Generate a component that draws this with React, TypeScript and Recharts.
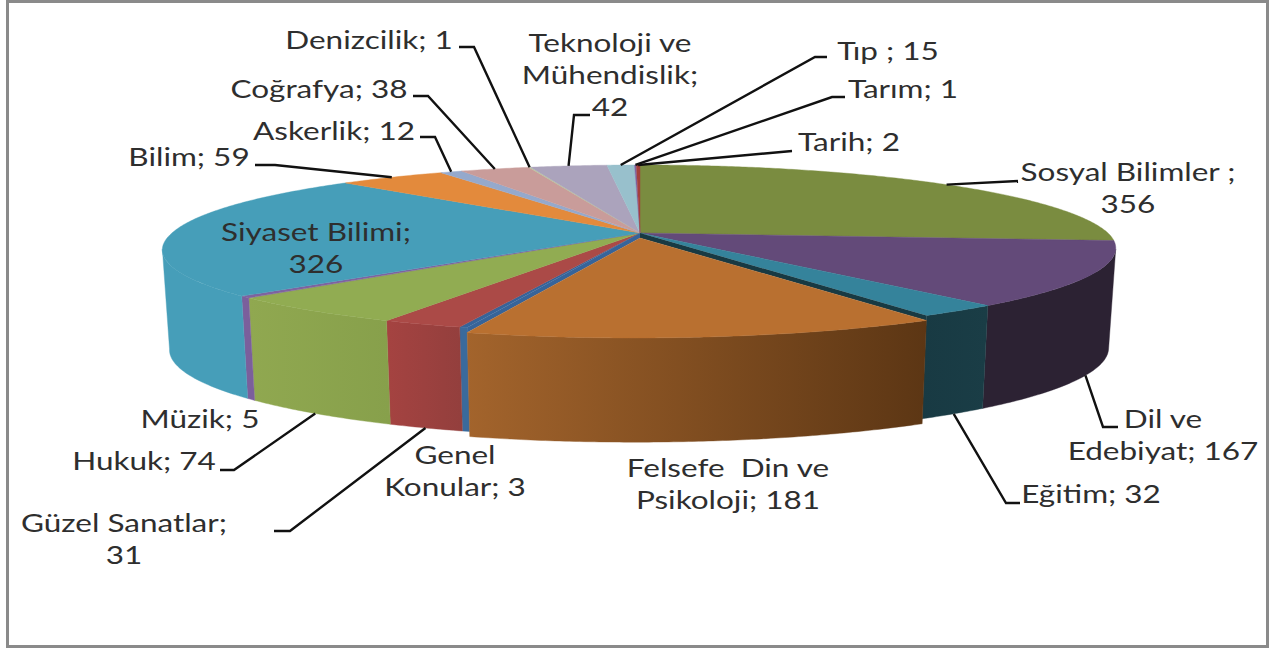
import React from "react";
import { PieChart, Pie } from "recharts";

const CATEGORIES = ["Sosyal Bilimler", "Dil ve Edebiyat", "Eğitim", "Felsefe Din ve Psikoloji", "Genel Konular", "Güzel Sanatlar", "Hukuk", "Müzik", "Siyaset Bilimi", "Bilim", "Askerlik", "Coğrafya", "Denizcilik", "Teknoloji ve Mühendislik", "Tıp", "Tarım", "Tarih"];
const VALUES = [356, 167, 32, 181, 3, 31, 74, 5, 326, 59, 12, 38, 1, 42, 15, 1, 2];
const TOP_COLORS = ["#7a8c40", "#634a79", "#35839b", "#b97030", "#36649a", "#ab4a47", "#91ac52", "#7f63a0", "#469eb9", "#e38a3c", "#95a9cc", "#c99c9a", "#b8c89a", "#aba3bc", "#98c0cc", "#7f63a0", "#a5403d"];
const WALL_LEFT = ["#3c4520", "#2c2233", "#183a43", "#a3642c", "#3a6a9c", "#a54341", "#90a850", "#7b5f9c", "#469eb9", "#e38a3c", "#95a9cc", "#c99c9a", "#b8c89a", "#aba3bc", "#98c0cc", "#7f63a0", "#a5403d"];
const WALL_RIGHT = ["#3c4520", "#2c2233", "#1a3d46", "#5c3614", "#3a6a9c", "#933f3d", "#87a04b", "#7b5f9c", "#469eb9", "#e38a3c", "#95a9cc", "#c99c9a", "#b8c89a", "#aba3bc", "#98c0cc", "#7f63a0", "#a5403d"];

const LABEL_LINES = [["Sosyal Bilimler ;", "356"], ["Dil ve", "Edebiyat; 167"], ["Eğitim; 32"], ["Felsefe  Din ve", "Psikoloji; 181"], ["Genel", "Konular; 3"], ["Güzel Sanatlar;", "31"], ["Hukuk; 74"], ["Müzik; 5"], ["Siyaset Bilimi;", "326"], ["Bilim; 59"], ["Askerlik; 12"], ["Coğrafya; 38"], ["Denizcilik; 1"], ["Teknoloji ve", "Mühendislik;", "42"], ["Tıp ; 15"], ["Tarım; 1"], ["Tarih; 2"]];
const LABEL_CENTER_X = [1128, 1163, 1091, 728, 455, 124, 144, 200, 316, 189, 334, 319, 369, 610, 888, 903, 849];
const LABEL_BASELINE_Y = [181, 428, 503, 477, 464, 532, 470, 428, 241, 166, 140, 98, 49, 52, 60, 98, 151];
const LEADER_LEVEL = [0, 1, 1, -1, -1, 1, 1, -1, -1, 0, 0, 0, 0, 0, 0, 0, 0];
const LEADER_PATHS: number[][][] = [
  [[1018, 181]],
  [[1103, 427], [1118, 427]],
  [[1006, 503], [1020, 503]],
  [],
  [],
  [[290, 531], [274, 531]],
  [[234, 470], [220, 470]],
  [],
  [],
  [[275, 165], [255, 165]],
  [[435, 137], [420, 137]],
  [[428, 96], [413, 96]],
  [[474, 47], [459, 47]],
  [[574, 115], [590, 115]],
  [[815, 57], [827, 57]],
  [[832, 97], [845, 97]],
  [[792, 151]],
];

const EXPLODED = 3;
const TILT = 0.19;
const FLATTEN = 0.173;
const DEPTH_RATIO = 0.212;
const SHEAR = 0.06;
const EXPLODE_DX = 0;
const EXPLODE_DY = 5;
const TEXT_STRETCH = 1.26;

const chartData = CATEGORIES.map((name, i) => ({ name, value: VALUES[i] }));

const project = (cx: number, cy: number, R: number, theta: number, r: number, level: number) => {
  const t = (theta * Math.PI) / 180;
  const w = 1 + TILT * r * Math.cos(t);
  let x = (R * r * Math.sin(t)) / w;
  let y = (-FLATTEN * R * r * Math.cos(t)) / w;
  if (y > 0) x -= SHEAR * y;
  if (level === 1) {
    x *= 0.985;
    y = y * 1.05 + DEPTH_RATIO * R;
  }
  return [cx + x, cy + y];
};

const pathOf = (pts: number[][], close = true) =>
  pts.map((p, i) => `${i ? "L" : "M"}${p[0].toFixed(2)},${p[1].toFixed(2)}`).join("") + (close ? "Z" : "");

const arcPoints = (cx: number, cy: number, R: number, a: number, b: number, level: number) => {
  const n = Math.max(2, Math.ceil((b - a) / 0.5));
  const out: number[][] = [];
  for (let i = 0; i <= n; i++) out.push(project(cx, cy, R, a + ((b - a) * i) / n, 1, level));
  return out;
};

const Slice3D = (props: any, show: (i: number) => boolean) => {
  const index = CATEGORIES.indexOf(props.name);
  if (!show(index)) return <g />;
  const ex = index === EXPLODED;
  const cx = props.cx + (ex ? EXPLODE_DX : 0);
  const cy = props.cy + (ex ? EXPLODE_DY : 0);
  const R = props.outerRadius;
  const a = 90 - props.startAngle;
  const b = 90 - props.endAngle;
  const top = [[cx, cy], ...arcPoints(cx, cy, R, a, b, 0)];
  const vis = (Math.acos(-TILT) * 180) / Math.PI;
  const wa = Math.max(a, vis);
  const wb = Math.min(b, 360 - vis);
  let wall: React.ReactNode = null;
  let gaps: React.ReactNode = null;
  if (ex) {
    const oa = project(props.cx, props.cy, R, a, 1, 0);
    const ob = project(props.cx, props.cy, R, b, 1, 0);
    const na = project(cx, cy, R, a, 1, 0);
    const nb = project(cx, cy, R, b, 1, 0);
    gaps = (
      <>
        <path d={pathOf([[props.cx, props.cy], oa, na, [cx, cy]])} fill={WALL_LEFT[index - 1]} />
        <path d={pathOf([[props.cx, props.cy], ob, nb, [cx, cy]])} fill={TOP_COLORS[index + 1]} />
      </>
    );
  }
  if (wb > wa) {
    const upper = arcPoints(cx, cy, R, wa, wb, 0);
    const lower = arcPoints(cx, cy, R, wa, wb, 1);
    const pts = [...upper, ...lower.reverse()];
    const xs = pts.map((p) => p[0]);
    const gid = `wall-${index}`;
    wall = (
      <>
        <defs>
          <linearGradient id={gid} gradientUnits="userSpaceOnUse" x1={Math.min(...xs)} x2={Math.max(...xs)} y1={0} y2={0}>
            <stop offset="0" stopColor={WALL_LEFT[index]} />
            <stop offset="1" stopColor={WALL_RIGHT[index]} />
          </linearGradient>
        </defs>
        <path d={pathOf(pts)} fill={`url(#${gid})`} stroke={`url(#${gid})`} strokeWidth={0.4} />
      </>
    );
  }
  return (
    <g>
      {gaps}
      {wall}
      <path d={pathOf(top)} fill={TOP_COLORS[index]} stroke={TOP_COLORS[index]} strokeWidth={0.4} />
    </g>
  );
};

const renderLabel = (props: any) => {
  const i = CATEGORIES.indexOf(props.name);
  const theta = 90 - props.midAngle;
  const level = LEADER_LEVEL[i];
  const path = LEADER_PATHS[i];
  const start = project(props.cx, props.cy, props.outerRadius, theta, 1, Math.max(level, 0));
  const tx = LABEL_CENTER_X[i];
  return (
    <g key={`label-${i}`}>
      {level >= 0 && path.length > 0 && (
        <path d={pathOf([start, ...path], false)} fill="none" stroke="#111" strokeWidth={2.4} />
      )}
      <text
        textAnchor="middle"
        fontFamily="Lato, sans-serif"
        fontSize={25}
        fill="#2e2e2e"
        transform={`translate(${tx} 0) scale(${TEXT_STRETCH} 1)`}
      >
        {LABEL_LINES[i].map((line, j) => (
          <tspan key={j} x={0} y={LABEL_BASELINE_Y[i] + j * 32} xmlSpace="preserve">
            {line}
          </tspan>
        ))}
      </text>
    </g>
  );
};

export default function App() {
  return (
    <div style={{ position: "absolute", left: 0, top: 0, width: 1270, height: 650, background: "#fff" }}>
      <div style={{ position: "absolute", left: 6, top: 0, width: 1257, height: 642, border: "3px solid #8a8a8a" }} />
      <div style={{ position: "absolute", left: 0, top: 0 }}>
        <PieChart width={1270} height={650} margin={{ top: 0, right: 0, bottom: 0, left: 0 }}>
          <Pie
            data={chartData}
            dataKey="value"
            nameKey="name"
            cx={640}
            cy={233}
            innerRadius={0}
            outerRadius={468}
            startAngle={90}
            endAngle={-270}
            stroke="none"
            isAnimationActive={false}
            shape={(p: any) => Slice3D(p, (i) => i !== EXPLODED)}
            label={renderLabel}
            labelLine={false}
          />
          <Pie
            data={chartData}
            dataKey="value"
            nameKey="name"
            cx={640}
            cy={233}
            innerRadius={0}
            outerRadius={468}
            startAngle={90}
            endAngle={-270}
            stroke="none"
            isAnimationActive={false}
            shape={(p: any) => Slice3D(p, (i) => i === EXPLODED)}
            label={false}
            labelLine={false}
          />
        </PieChart>
      </div>
    </div>
  );
}
